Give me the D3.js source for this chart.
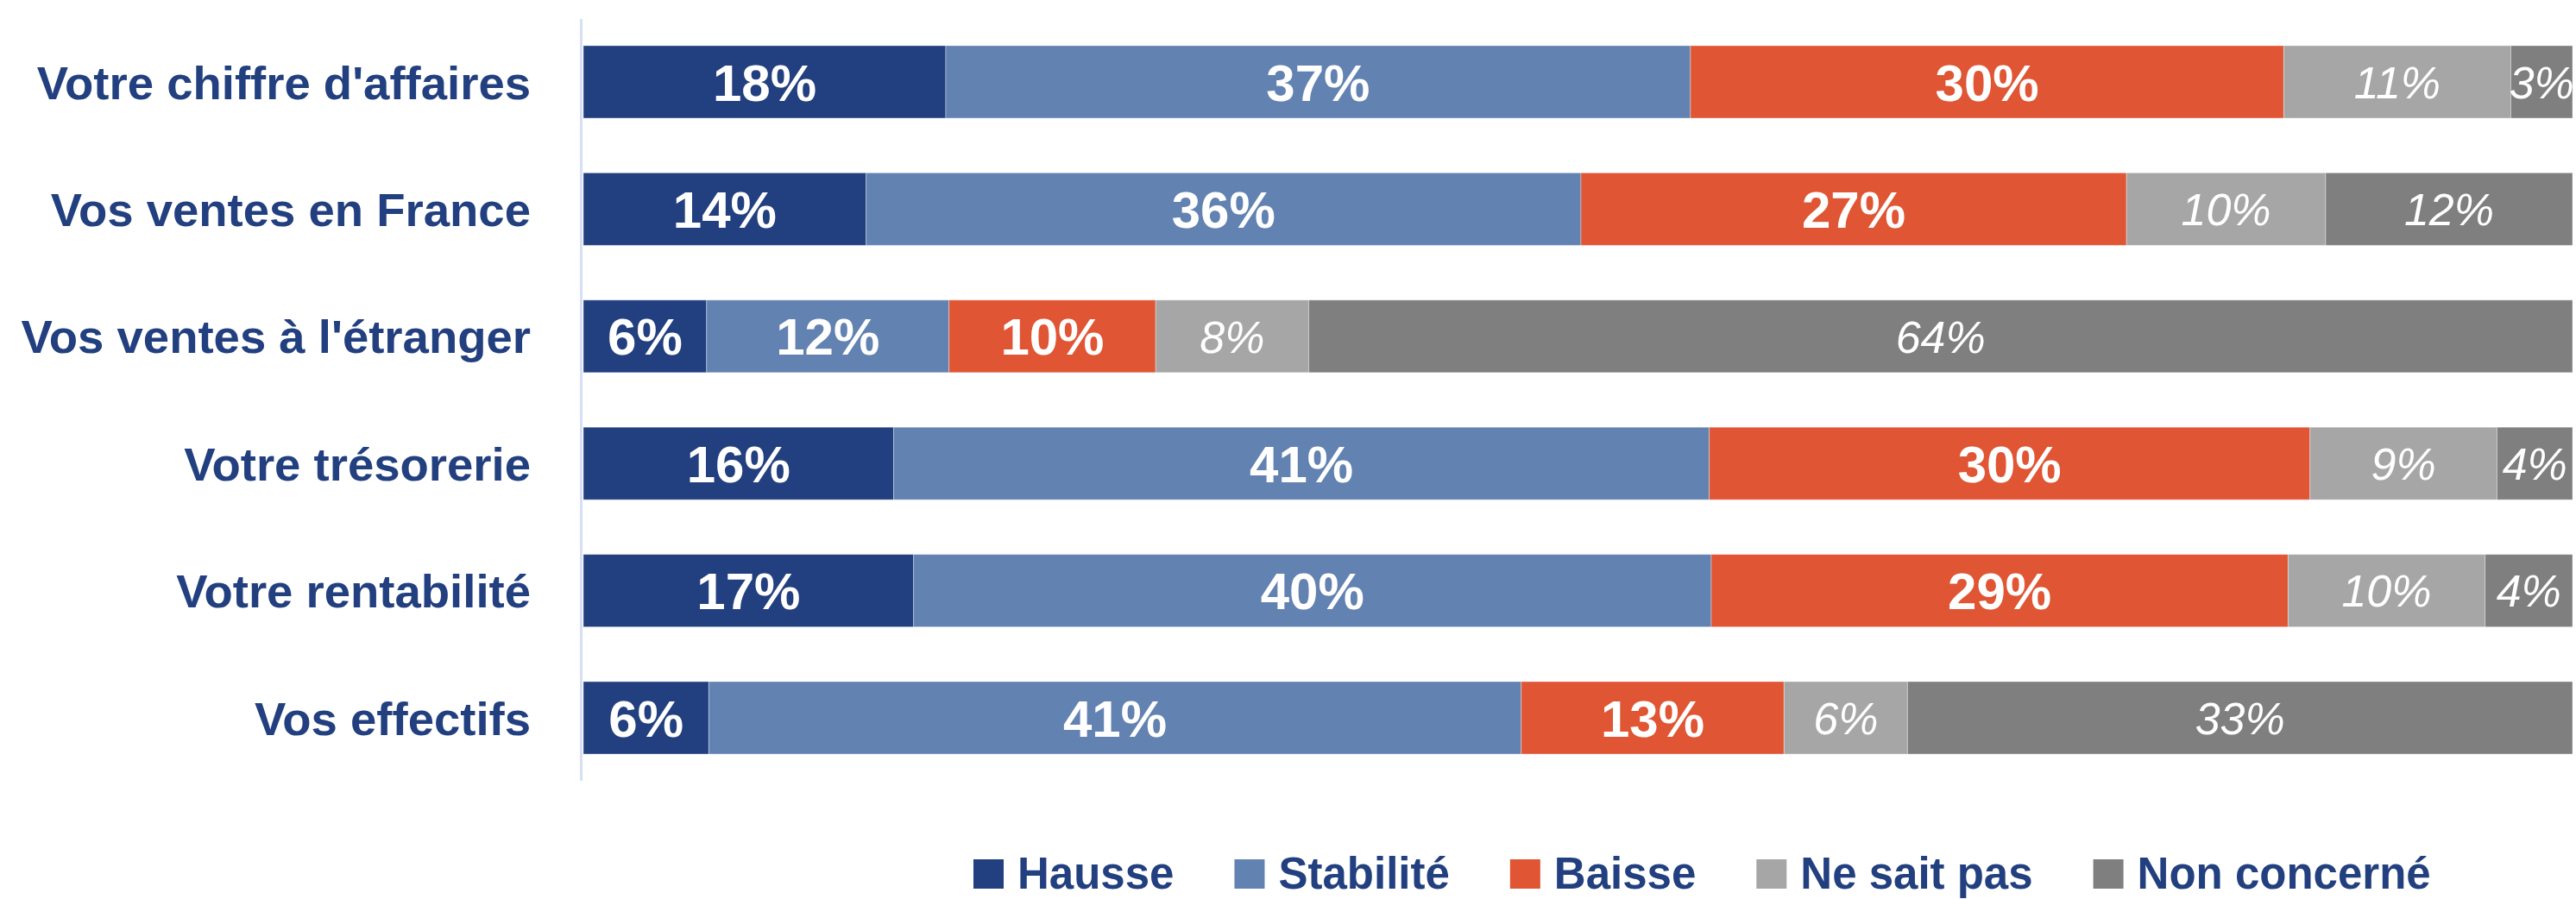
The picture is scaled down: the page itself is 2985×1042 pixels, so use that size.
<!DOCTYPE html>
<html>
<head>
<meta charset="utf-8">
<script src="https://cdn.jsdelivr.net/npm/d3@7"></script>
<style>
  html, body { margin: 0; padding: 0; background: #fff; overflow: hidden; }
  svg { display: block; }
</style>
</head>
<body>
<svg id="chart" width="2985" height="1042"></svg>
<script>
// ---- Data (percent) ----
const categories = [
  "Votre chiffre d'affaires",
  "Vos ventes en France",
  "Vos ventes à l'étranger",
  "Votre trésorerie",
  "Votre rentabilité",
  "Vos effectifs"
];
const seriesNames = ["Hausse", "Stabilité", "Baisse", "Ne sait pas", "Non concerné"];
const hausse      = [18.2, 14.2,  6.2, 15.6, 16.6,  6.3];
const stabilite   = [37.4, 35.9, 12.2, 41.0, 40.1, 40.8];
const baisse      = [29.8, 27.4, 10.4, 30.2, 29.0, 13.2];
const neSaitPas   = [11.4, 10.0,  7.7,  9.4,  9.9,  6.2];
const nonConcerne = [ 3.1, 12.4, 63.6,  3.8,  4.4, 33.4];
const colors = ["#223F7F", "#6282B2", "#E05533", "#A6A6A6", "#7F7F7F"];

// ---- Build table ----
const keys = seriesNames;
const columns = [hausse, stabilite, baisse, neSaitPas, nonConcerne];
const table = categories.map((c, i) => {
  const row = { cat: c };
  keys.forEach((k, j) => row[k] = columns[j][i]);
  return row;
});

const svg = d3.select("#chart");
const left = 676, right = 2981;
const FONT = "'Liberation Sans Narrow', 'Arial Narrow', 'Liberation Sans', sans-serif";
const NAVY = "#223F7F";

const x = d3.scaleLinear().domain([0, 1]).range([left, right]);
const y = d3.scaleBand().domain(categories).range([22, 905])
  .paddingInner(0.43).paddingOuter(0.21);
const color = d3.scaleOrdinal().domain(keys).range(colors);

const stacked = d3.stack().keys(keys).offset(d3.stackOffsetExpand)(table);

// axis line
svg.append("line")
  .attr("x1", 673.5).attr("x2", 673.5)
  .attr("y1", 22).attr("y2", 905)
  .attr("stroke", "#D6E0F5").attr("stroke-width", 3);

// bars
const g = svg.append("g");
const layers = g.selectAll("g.layer").data(stacked).join("g")
  .attr("class", "layer")
  .attr("fill", d => color(d.key));

layers.selectAll("rect").data(d => d).join("rect")
  .attr("x", d => x(d[0]))
  .attr("width", d => x(d[1]) - x(d[0]))
  .attr("y", d => y(d.data.cat))
  .attr("height", y.bandwidth())
  .attr("stroke", "rgba(255,255,255,0.35)")
  .attr("stroke-width", 1);

// labels
const boldKeys = new Set(["Hausse", "Stabilité", "Baisse"]);
layers.each(function(layer) {
  const bold = boldKeys.has(layer.key);
  d3.select(this).selectAll("text").data(layer).join("text")
    .attr("x", d => (x(d[0]) + x(d[1])) / 2)
    .attr("y", d => y(d.data.cat) + y.bandwidth() / 2)
    .attr("dy", "0.36em")
    .attr("text-anchor", "middle")
    .attr("fill", "#fff")
    .attr("font-family", FONT)
    .attr("font-size", bold ? 60 : 52)
    .attr("font-weight", bold ? "bold" : "normal")
    .attr("font-style", bold ? "normal" : "italic")
    .text(d => Math.round(d.data[layer.key]) + "%");
});

// category labels (y axis)
svg.append("g").selectAll("text").data(categories).join("text")
  .attr("x", 615)
  .attr("y", d => y(d) + y.bandwidth() / 2)
  .attr("dy", "0.36em")
  .attr("text-anchor", "end")
  .attr("fill", NAVY)
  .attr("font-family", FONT)
  .attr("font-size", 54.5)
  .attr("font-weight", "bold")
  .text(d => d);

// legend
const legend = svg.append("g");
let lx = 1128;
const baseY = 1030;
keys.forEach((k, i) => {
  legend.append("rect")
    .attr("x", lx).attr("y", baseY - 34)
    .attr("width", 35).attr("height", 34)
    .attr("fill", colors[i]);
  const t = legend.append("text")
    .attr("x", lx + 51).attr("y", baseY)
    .attr("fill", NAVY)
    .attr("font-family", FONT)
    .attr("font-size", 51)
    .attr("font-weight", "bold")
    .text(k);
  const w = t.node().getComputedTextLength();
  lx = lx + 51 + w + 70;
});
</script>
</body>
</html>
